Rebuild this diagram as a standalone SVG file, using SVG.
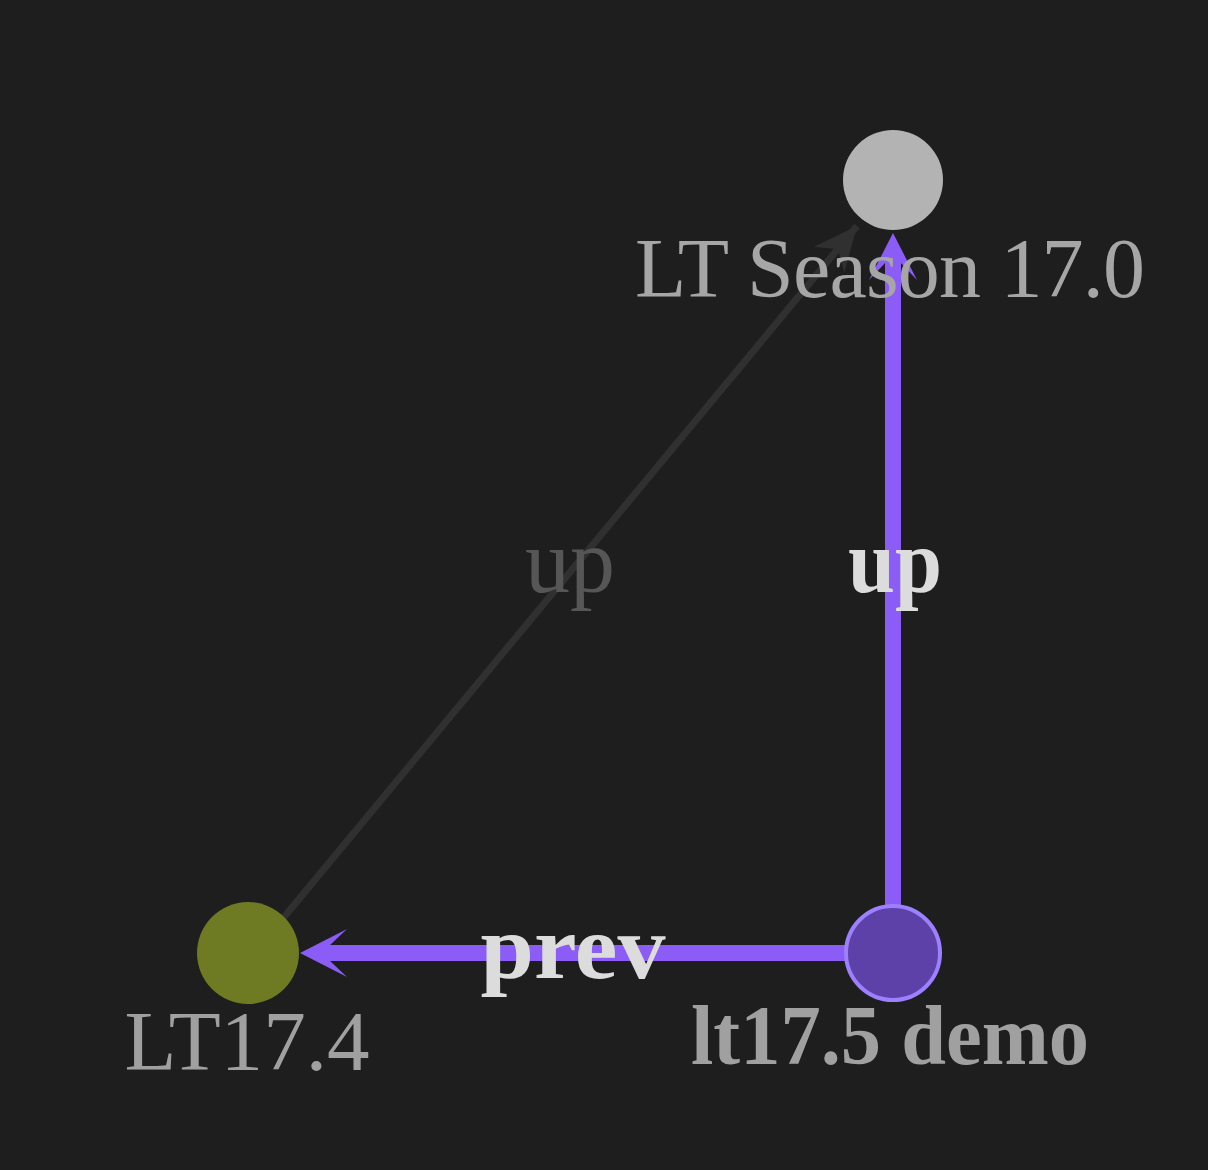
<svg xmlns="http://www.w3.org/2000/svg" width="1208" height="1170" viewBox="0 0 1208 1170">
<style>
.lbl{font-family:"Liberation Serif","Times New Roman",serif;font-size:84px;text-anchor:middle}
.elbl{font-family:"Liberation Serif","Times New Roman",serif;font-size:92px;text-anchor:middle}
.b{font-weight:bold}
.hl{stroke:#8b5cf6;stroke-width:16;fill:none}
.dim{stroke:#303030;stroke-width:7;fill:none}
</style>
<defs>
<marker id="ahp" markerUnits="userSpaceOnUse" markerWidth="60" markerHeight="60" refX="-29" refY="0" viewBox="-50 -30 60 60" orient="auto">
<path d="M0,0 L-47,-24 L-29,-7 L-29,7 L-47,24 Z" fill="#8b5cf6"/>
</marker>
<marker id="ahg" markerUnits="userSpaceOnUse" markerWidth="60" markerHeight="60" refX="0" refY="0" viewBox="-50 -30 60 60" orient="auto">
<path d="M0,0 L-44,-20 L-30,0 L-44,20 Z" fill="#303030"/>
</marker>
</defs>
<rect width="1208" height="1170" fill="#1e1e1e"/>
<g id="connectors">
<line class="dim" x1="280" y1="922" x2="857" y2="226" marker-end="url(#ahg)"/>
<line class="hl" x1="893" y1="905" x2="893" y2="262" marker-end="url(#ahp)"/>
<line class="hl" x1="845" y1="953" x2="329" y2="953" marker-end="url(#ahp)"/>
<text class="elbl" x="570" y="592" fill="#565656" textLength="90" lengthAdjust="spacingAndGlyphs">up</text>
<text class="elbl b" x="895" y="592" fill="#dcdcdc" textLength="94" lengthAdjust="spacingAndGlyphs">up</text>
<text class="elbl b" x="573" y="978" fill="#dcdcdc" textLength="185" lengthAdjust="spacingAndGlyphs">prev</text>
</g>
<g id="node-season">
<circle cx="893" cy="180" r="50" fill="#b3b3b3"/>
<text class="lbl" x="890" y="297" fill="#a6a6a6" textLength="510" lengthAdjust="spacing">LT Season 17.0</text>
</g>
<g id="node-lt174">
<circle cx="248" cy="953" r="51" fill="#6e7b22"/>
<text class="lbl" x="247" y="1070" fill="#a0a0a0" textLength="245" lengthAdjust="spacingAndGlyphs">LT17.4</text>
</g>
<g id="node-lt175">
<circle cx="893" cy="953" r="47" fill="#5d41a8" stroke="#9d80ff" stroke-width="4"/>
<text class="lbl b" x="890" y="1064" fill="#a0a0a0" textLength="398" lengthAdjust="spacingAndGlyphs">lt17.5 demo</text>
</g>
</svg>
